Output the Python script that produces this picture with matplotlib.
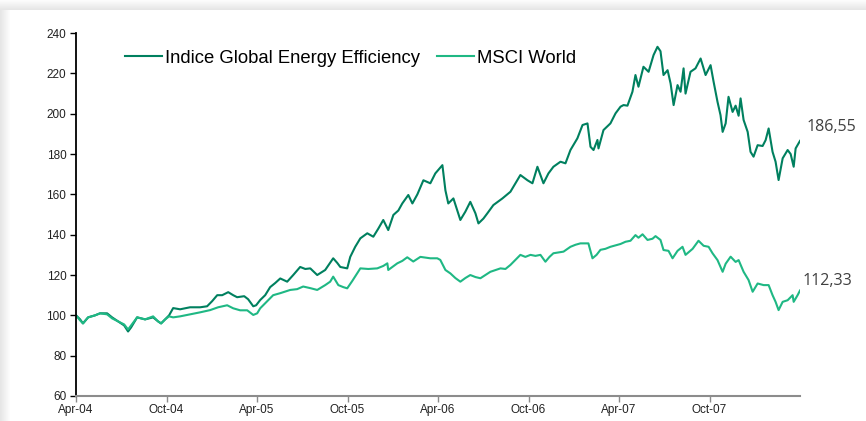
import matplotlib
matplotlib.use('Agg')
import matplotlib.pyplot as plt
from matplotlib.patches import Rectangle

# x = months since April 2004
energy_months = [0, 0.27, 0.46, 0.80, 1.26, 1.59, 2.06, 2.39, 2.79, 3.19, 3.45, 3.65, 4.05, 4.58, 5.11,
                 5.44, 5.64, 5.91, 6.17, 6.44, 6.90, 7.56, 8.23, 8.69, 9.02, 9.36, 9.69, 10.09, 10.42,
                 10.68, 11.15, 11.41, 11.75, 11.94, 12.21, 12.54, 12.87, 13.20, 13.54, 14.00, 14.40,
                 14.86, 15.20, 15.53, 15.99, 16.52, 17.05, 17.32, 17.52, 17.98, 18.18, 18.51, 18.85,
                 19.31, 19.71, 20.04, 20.37, 20.70, 21.04, 21.37, 21.63, 22.03, 22.30, 22.63, 23.03,
                 23.49, 23.82, 24.29, 24.49, 24.68, 25.02, 25.28, 25.48, 25.81, 26.14, 26.48, 26.68,
                 27.01, 27.27, 27.67, 28.27, 28.80, 29.13, 29.46, 29.93, 30.26, 30.59, 30.99, 31.32,
                 31.65, 32.12, 32.45, 32.78, 33.24, 33.58, 33.91, 34.11, 34.31, 34.57, 34.64, 34.97,
                 35.43, 35.77, 36.10, 36.30, 36.56, 36.89, 37.09, 37.29, 37.62, 37.96, 38.29, 38.55,
                 38.75, 38.95, 39.22, 39.42, 39.62, 39.88, 40.08, 40.28, 40.41, 40.74, 41.07, 41.41,
                 41.74, 42.07, 42.27, 42.53, 42.73, 42.87, 43.07, 43.26, 43.53, 43.73, 43.93, 44.06,
                 44.26, 44.53, 44.72, 44.92, 45.19, 45.52, 45.72, 45.92, 46.18, 46.38, 46.58, 46.85,
                 47.18, 47.38, 47.58, 47.71, 48.0]
energy = [100, 98, 96, 99, 100, 101, 101, 99, 97, 95, 92, 94, 99, 98, 99,
          97, 96, 98, 100, 103.6, 103, 104, 104, 104.5, 107, 110, 110, 111.5, 110,
          109, 109.5, 108, 104.5, 105, 107.6, 110, 114, 116, 118.3, 116.7, 120,
          124, 123, 123.3, 120, 122.5, 128.3, 126, 124, 123.3, 129, 134, 138.2,
          140.7, 139, 143, 147.3, 142.3, 149.8, 152, 155.5, 159.7, 155.5, 160, 167,
          165.5, 170.4, 174.5, 162, 155.5, 158, 152, 147.3, 151.4, 156.3, 150.6, 145.6,
          148, 150.6, 154.7, 158, 161.3, 165.5, 169.6, 167, 165.5, 173.7, 165.5, 170.4,
          173.7, 176.2, 175.4, 182, 187.8, 194.4, 195.2, 183.6, 182, 187, 182.8, 191.9,
          195.2, 200.2, 203.5, 204.3, 204, 210.9, 219.2, 213.4, 223.3, 220.8, 229.1, 233.2,
          231, 219.2, 221.6, 215, 204.3, 214.2, 210.9, 222.5, 210, 220.8, 222.5, 227.4,
          219.2, 224.1, 215.9, 205.9, 199.3, 191, 195.2, 208.4, 200.9, 204, 199, 207.6,
          196.9, 191, 181.1, 178.7, 184.4, 184, 186.9, 192.7, 181.1, 176.2, 167.1, 177.9,
          182, 180, 173.7, 182.8, 186.55]

msci_months = [0, 0.27, 0.46, 0.80, 1.26, 1.59, 2.06, 2.39, 2.79, 3.19, 3.45, 3.65, 4.05, 4.58, 5.11,
               5.44, 5.64, 5.91, 6.17, 6.44, 6.90, 7.56, 8.23, 8.89, 9.42, 10.02, 10.42, 10.88, 11.35,
               11.75, 12.01, 12.21, 12.54, 13.07, 13.54, 14.20, 14.66, 15.06, 15.53, 15.99, 16.52,
               16.85, 17.05, 17.39, 17.72, 17.98, 18.31, 18.85, 19.38, 19.97, 20.37, 20.64, 20.70,
               21.30, 21.63, 21.96, 22.36, 22.83, 23.49, 23.95, 24.15, 24.49, 24.82, 25.15, 25.48,
               25.81, 26.14, 26.48, 26.81, 27.14, 27.47, 28.14, 28.47, 28.80, 29.13, 29.46, 29.79,
               30.13, 30.46, 30.79, 31.12, 31.39, 31.65, 32.32, 32.78, 33.11, 33.44, 33.97, 34.24,
               34.51, 34.77, 35.10, 35.43, 36.10, 36.43, 36.76, 37.09, 37.29, 37.56, 37.89, 38.22,
               38.42, 38.75, 38.95, 39.28, 39.55, 39.88, 40.21, 40.41, 40.88, 41.27, 41.61, 41.94,
               42.20, 42.53, 42.87, 43.07, 43.40, 43.73, 43.93, 44.26, 44.59, 44.86, 45.19, 45.59,
               45.92, 46.18, 46.38, 46.58, 46.85, 47.18, 47.51, 47.58, 47.84, 48.0]
msci = [100, 97.5, 96, 99, 100, 101, 100.5, 98.5, 97, 95.5, 93, 95, 99, 98, 99.5,
        97, 96, 98, 99.5, 99, 99.5, 100.5, 101.5, 102.6, 104, 105, 103.5, 102.5, 102.5,
        100.2, 101, 103.5, 106, 110, 111, 112.6, 113, 114.3, 113.5, 112.6, 115,
        116.7, 119.2, 115, 114, 113.4, 117, 123.3, 123, 123.3, 124.5, 125.8, 122.5,
        125.8, 127, 128.8, 126.7, 129, 128.3, 128.3, 127.5, 122.5, 120.8, 118.5, 116.7,
        118.5, 120, 119, 118.4, 120, 121.6, 123.3, 123, 125, 127.5, 130, 129,
        130, 129.5, 130, 126.6, 129, 130.8, 131.6, 134, 135, 135.7, 135.7, 128.3,
        130, 132.5, 133, 134, 135.4, 136.5, 137, 139.8, 138.5, 140.2, 137.4, 138,
        139.3, 137.4, 132.4, 132, 128.3, 132, 134, 130, 133, 137, 134.5, 134,
        130.8, 127.4, 121.6, 125.6, 129.1, 126.5, 127.4, 121.6, 117.5, 111.7, 115.8, 115,
        115, 110, 106.7, 102.6, 106.7, 107.5, 110, 106.7, 110, 112.33]

tick_pos = [0, 6, 12, 18, 24, 30, 36, 42]
tick_labels = ['Apr-04', 'Oct-04', 'Apr-05', 'Oct-05', 'Apr-06', 'Oct-06', 'Apr-07', 'Oct-07']

c_energy = '#00805f'
c_msci = '#1fb884'

fig = plt.figure(figsize=(8.66, 4.21), dpi=100)
fig.patch.set_facecolor('white')

# grey card shadow on top and left edges
for i in range(10):
    g = 0.90 + 0.01 * i
    fig.patches.append(Rectangle((0, 1 - (10 - i) / 421), 1, 1 / 421, transform=fig.transFigure,
                                 facecolor=(g, g, g), edgecolor='none', zorder=0))
    fig.patches.append(Rectangle((i / 866, 0), 1 / 866, 1 - 10 / 421, transform=fig.transFigure,
                                 facecolor=(g, g, g), edgecolor='none', zorder=0))

ax = fig.add_axes([0.0878, 0.0594, 0.836, 0.862])
ax.plot(energy_months, energy, color=c_energy, lw=1.5, label='Indice Global Energy Efficiency')
ax.plot(msci_months, msci, color=c_msci, lw=1.5, label='MSCI World')

ax.set_xlim(0, 48)
ax.set_ylim(60, 240)
ax.set_yticks(range(60, 241, 20))
ax.set_xticks(tick_pos)
ax.set_xticklabels(tick_labels)

for s in ['top', 'right']:
    ax.spines[s].set_visible(False)
ax.spines['left'].set_color('black')
ax.spines['left'].set_linewidth(1.3)
ax.spines['bottom'].set_color('#8c8c8c')
ax.spines['bottom'].set_linewidth(1.5)
ax.tick_params(axis='y', direction='out', length=4, width=1, color='black',
               labelsize=8.5, labelcolor='#222222', pad=3)
ax.tick_params(axis='x', direction='out', length=4, width=1, color='#8c8c8c',
               labelsize=8.5, labelcolor='#222222', pad=2)
for t in ax.get_xticklabels() + ax.get_yticklabels():
    t.set_fontfamily('Liberation Sans')

leg = ax.legend(loc='upper left', bbox_to_anchor=(0.045, 1.0), ncol=2, frameon=False,
                handlelength=2.0, handletextpad=0.16, columnspacing=0.9,
                prop={'family': 'Liberation Sans', 'size': 13.3})

ax.annotate('186,55', xy=(energy_months[-1], energy[-1]), xytext=(5, 10),
            textcoords='offset points', fontsize=11.5, color='#404040',
            family='Open Sans', va='center', ha='left', annotation_clip=False)
ax.annotate('112,33', xy=(msci_months[-1], msci[-1]), xytext=(2, 7),
            textcoords='offset points', fontsize=11.5, color='#404040',
            family='Open Sans', va='center', ha='left', annotation_clip=False)

plt.savefig('out.png', dpi=100)
